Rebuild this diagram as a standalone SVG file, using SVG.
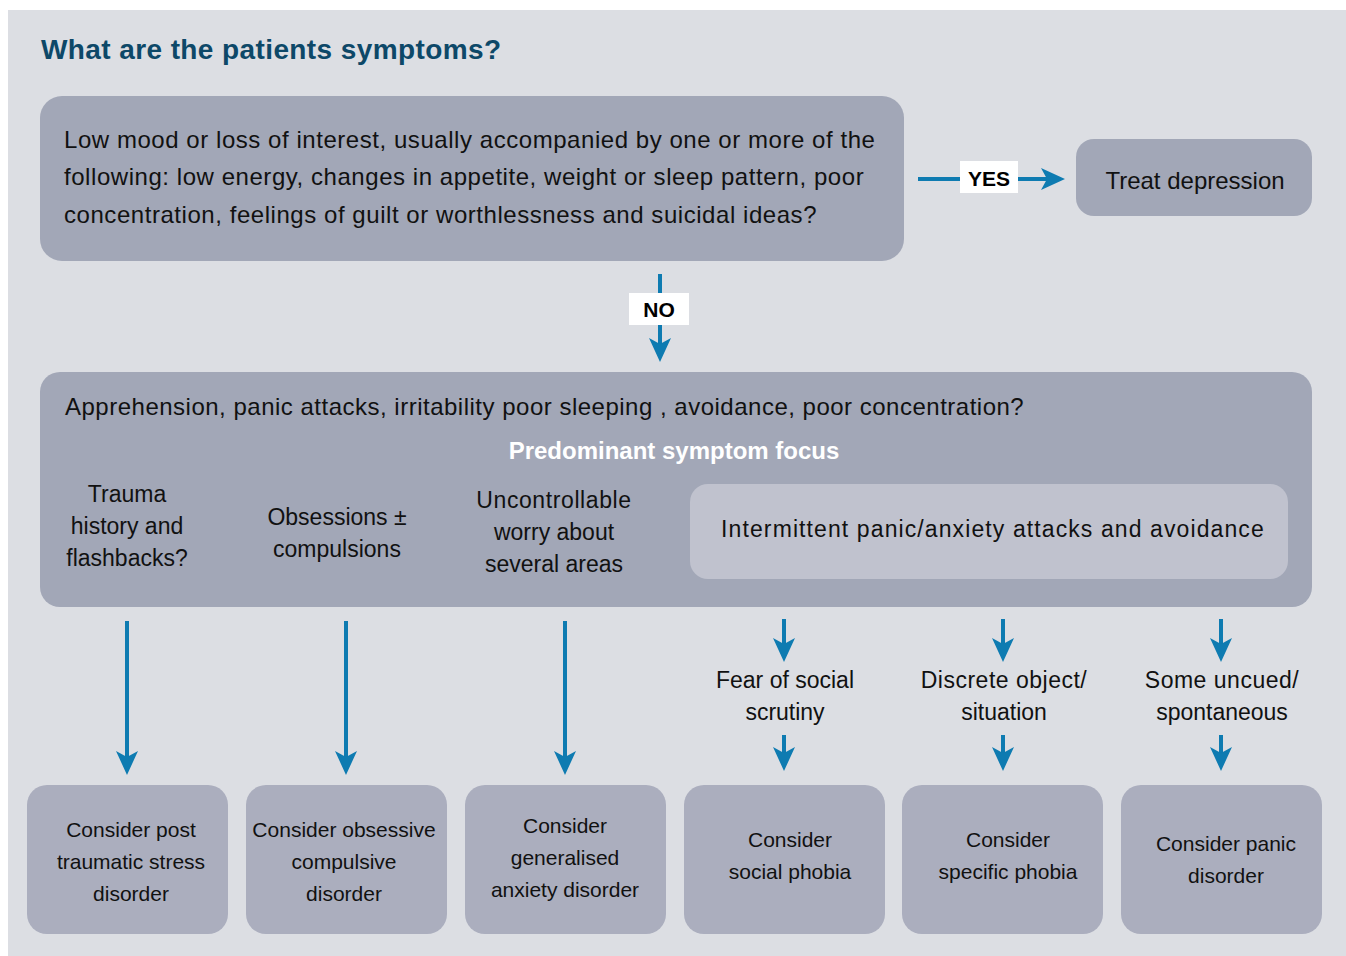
<svg xmlns="http://www.w3.org/2000/svg" width="1346" height="956" viewBox="0 0 1346 956">
<style>
text{font-family:"Liberation Sans","Noto Sans",sans-serif;fill:#111;}
.big{font-size:24px;}
.wide{letter-spacing:0.55px;}
.mid{font-size:23px;text-anchor:middle;}
.sm{font-size:21px;text-anchor:middle;}
.n1{fill:#a2a7b7;}
.n2{fill:#abaebe;}
.n3{fill:#c0c2ce;}
.con{stroke:#0e7bb1;stroke-width:4;fill:none;marker-end:url(#ah);}
.lab{font-size:21px;font-weight:bold;text-anchor:middle;fill:#000;}
</style>
<defs>
<marker id="ah" markerUnits="userSpaceOnUse" markerWidth="40" markerHeight="40" viewBox="-10 -15 40 30" refX="0" refY="0" orient="auto" overflow="visible">
<path d="M18,0 L-6,-11 L0,0 L-6,11 Z" fill="#0e7bb1"/>
</marker>
</defs>
<rect x="0" y="0" width="1346" height="956" fill="#ffffff"/>
<rect x="8" y="10" width="1338" height="946" fill="#dcdee3"/>
<text x="41" y="59" style="font-size:28px;font-weight:bold;fill:#0d4868;letter-spacing:0.4px;">What are the patients symptoms?</text>

<g id="connectors">
<path class="con" d="M918,179 H1047"/>
<rect x="960" y="161" width="58" height="32" fill="#fff"/>
<text class="lab" x="989" y="186">YES</text>
<path class="con" d="M660,274 V344"/>
<rect x="629" y="293" width="60" height="32" fill="#fff"/>
<text class="lab" x="659" y="317">NO</text>
<path class="con" d="M127,621 V757"/>
<path class="con" d="M346,621 V757"/>
<path class="con" d="M565,621 V757"/>
<path class="con" d="M784,619 V644"/>
<path class="con" d="M1003,619 V644"/>
<path class="con" d="M1221,619 V644"/>
<path class="con" d="M784,735 V753"/>
<path class="con" d="M1003,735 V753"/>
<path class="con" d="M1221,735 V753"/>
</g>

<g id="depression-q">
<rect class="n1" x="40" y="96" width="864" height="165" rx="22"/>
<text class="big wide" x="64" y="148">Low mood or loss of interest, usually accompanied by one or more of the</text>
<text class="big wide" x="64" y="185">following: low energy, changes in appetite, weight or sleep pattern, poor</text>
<text class="big wide" x="64" y="223">concentration, feelings of guilt or worthlessness and suicidal ideas?</text>
</g>

<g id="treat-depression">
<rect class="n1" x="1076" y="139" width="236" height="77" rx="18"/>
<text class="big" x="1195" y="189" text-anchor="middle">Treat depression</text>
</g>

<g id="anxiety-q">
<rect class="n1" x="40" y="372" width="1272" height="235" rx="20"/>
<text class="big" x="65" y="415" style="letter-spacing:0.5px;">Apprehension, panic attacks, irritability poor sleeping , avoidance, poor concentration?</text>
<text x="674" y="459" style="font-size:24px;font-weight:bold;fill:#fff;text-anchor:middle;">Predominant symptom focus</text>
<text class="mid" x="127" y="502">Trauma</text>
<text class="mid" x="127" y="534">history and</text>
<text class="mid" x="127" y="566">flashbacks?</text>
<text class="mid" x="337" y="525">Obsessions ±</text>
<text class="mid" x="337" y="557">compulsions</text>
<text class="mid" x="554" y="508" style="letter-spacing:0.6px;">Uncontrollable</text>
<text class="mid" x="554" y="540">worry about</text>
<text class="mid" x="554" y="572">several areas</text>
</g>

<g id="intermittent">
<rect class="n3" x="690" y="484" width="598" height="95" rx="18"/>
<text class="mid" x="993" y="537" style="letter-spacing:1.1px;">Intermittent panic/anxiety attacks and avoidance</text>
</g>

<g id="fear-social">
<text class="mid" x="785" y="688">Fear of social</text>
<text class="mid" x="785" y="720">scrutiny</text>
</g>
<g id="discrete-object">
<text class="mid" x="1004" y="688" style="letter-spacing:0.5px;">Discrete object/</text>
<text class="mid" x="1004" y="720">situation</text>
</g>
<g id="uncued">
<text class="mid" x="1222" y="688" style="letter-spacing:0.5px;">Some uncued/</text>
<text class="mid" x="1222" y="720">spontaneous</text>
</g>

<g id="ptsd">
<rect class="n2" x="27" y="785" width="201" height="149" rx="20"/>
<text class="sm" x="131" y="837">Consider post</text>
<text class="sm" x="131" y="869">traumatic stress</text>
<text class="sm" x="131" y="901">disorder</text>
</g>
<g id="ocd">
<rect class="n2" x="246" y="785" width="201" height="149" rx="20"/>
<text class="sm" x="344" y="837">Consider obsessive</text>
<text class="sm" x="344" y="869">compulsive</text>
<text class="sm" x="344" y="901">disorder</text>
</g>
<g id="gad">
<rect class="n2" x="465" y="785" width="201" height="149" rx="20"/>
<text class="sm" x="565" y="833">Consider</text>
<text class="sm" x="565" y="865">generalised</text>
<text class="sm" x="565" y="897">anxiety disorder</text>
</g>
<g id="social-phobia">
<rect class="n2" x="684" y="785" width="201" height="149" rx="20"/>
<text class="sm" x="790" y="847">Consider</text>
<text class="sm" x="790" y="879">social phobia</text>
</g>
<g id="specific-phobia">
<rect class="n2" x="902" y="785" width="201" height="149" rx="20"/>
<text class="sm" x="1008" y="847">Consider</text>
<text class="sm" x="1008" y="879">specific phobia</text>
</g>
<g id="panic">
<rect class="n2" x="1121" y="785" width="201" height="149" rx="20"/>
<text class="sm" x="1226" y="851">Consider panic</text>
<text class="sm" x="1226" y="883">disorder</text>
</g>
</svg>
